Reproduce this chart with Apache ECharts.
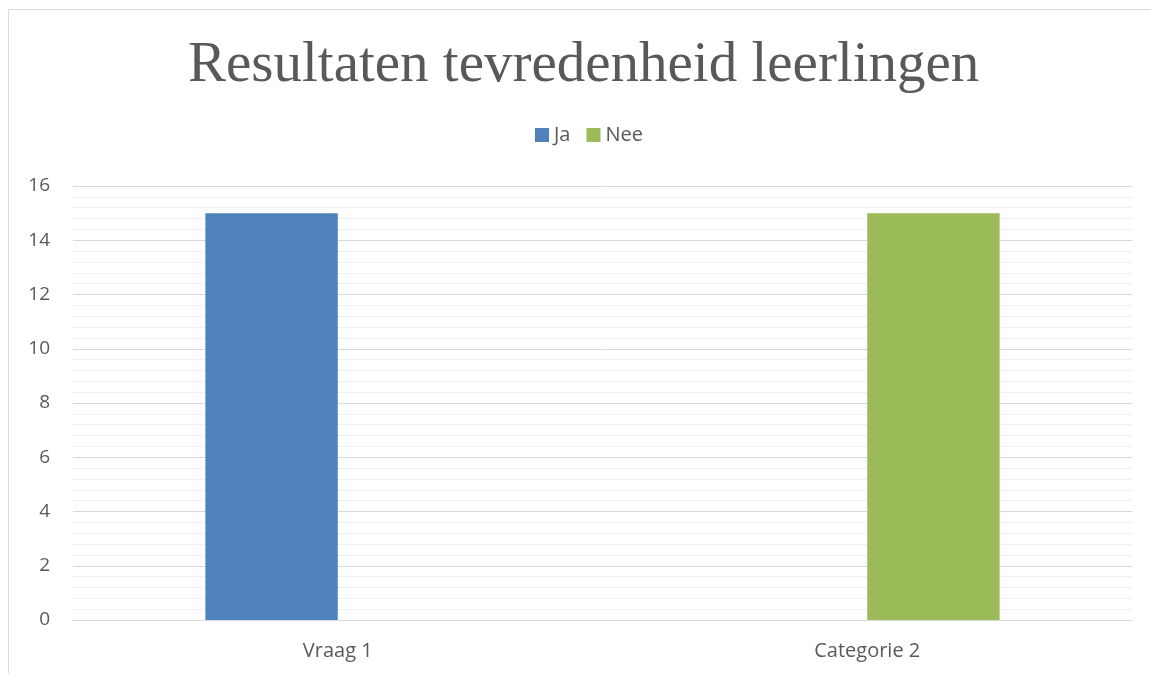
<!DOCTYPE html>
<html>
<head>
<meta charset="utf-8">
<script src="https://cdn.jsdelivr.net/npm/echarts@6/dist/echarts.min.js"></script>
<style>html,body{margin:0;padding:0;background:#fff}#c{width:1151px;height:673px}</style>
</head>
<body>
<div id="c"></div>
<script>
const categories = ['Vraag 1', 'Categorie 2'];
const jaValues = [15, 0];
const neeValues = [0, 15];
const seriesNames = ['Ja', 'Nee'];
const titleText = 'Resultaten tevredenheid leerlingen';

const chart = echarts.init(document.getElementById('c'));
chart.setOption({
  animation: false,
  backgroundColor: '#fff',
  graphic: [
    { type: 'line', shape: { x1: 8.5, y1: 9.5, x2: 1151, y2: 9.5 }, style: { stroke: '#d9d9d9', lineWidth: 1 } },
    { type: 'line', shape: { x1: 8.5, y1: 9.5, x2: 8.5, y2: 673 }, style: { stroke: '#d9d9d9', lineWidth: 1 } }
  ],
  title: {
    text: titleText,
    left: 188,
    top: 38,
    padding: 0,
    textStyle: { fontFamily: 'Liberation Serif', fontSize: 57, fontWeight: 'normal', color: '#595959' }
  },
  legend: {
    data: seriesNames,
    top: 120,
    left: 530,
    itemWidth: 14,
    itemHeight: 14,
    itemGap: 16,
    icon: 'rect',
    textStyle: { fontFamily: 'Open Sans', fontSize: 20, color: '#595959', padding: [0, 0, 0, 0] }
  },
  grid: { left: 73, right: 19, top: 186, bottom: 53, containLabel: false },
  xAxis: {
    type: 'category',
    data: categories,
    axisLine: { lineStyle: { color: '#d9d9d9', width: 1 } },
    axisTick: { show: false },
    axisLabel: { fontFamily: 'Open Sans', fontSize: 20, color: '#595959', margin: 21 }
  },
  yAxis: {
    type: 'value',
    min: 0,
    max: 16,
    interval: 2,
    axisLine: { show: false },
    axisTick: { show: false },
    axisLabel: { fontFamily: 'Open Sans', fontSize: 19, color: '#595959', margin: 23 },
    splitLine: { lineStyle: { color: '#d9d9d9', width: 1 } },
    minorTick: { show: false, splitNumber: 5 },
    minorSplitLine: { show: true, lineStyle: { color: '#f0f0f0', width: 1 } }
  },
  series: [
    { name: seriesNames[0], type: 'bar', data: jaValues, barGap: '0%', barCategoryGap: '50%', itemStyle: { color: '#4f81bd' } },
    { name: seriesNames[1], type: 'bar', data: neeValues, barGap: '0%', barCategoryGap: '50%', itemStyle: { color: '#9bbb59' } }
  ]
});
</script>
</body>
</html>
